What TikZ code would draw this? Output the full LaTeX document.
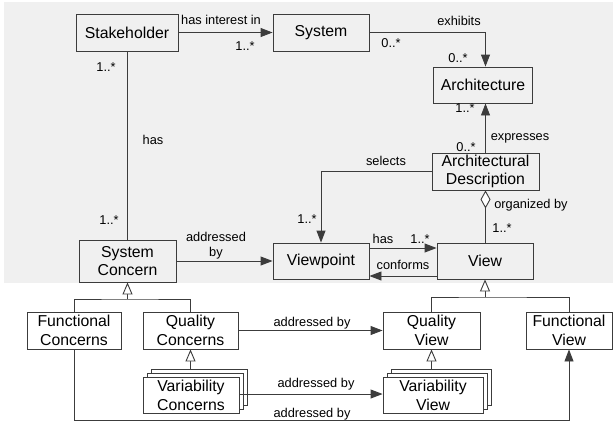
\documentclass[tikz,border=0pt]{standalone}
\usepackage{fontspec}
\setmainfont{Liberation Sans}
\usetikzlibrary{arrows.meta,calc}
\definecolor{bg}{HTML}{F0F0F0}
\definecolor{ln}{HTML}{3C3C3C}

\begin{document}
\begin{tikzpicture}[x=1pt,y=-1pt,
  cls/.style={draw=ln, line width=0.9pt, align=center, inner sep=0pt,
    font=\fontsize{15.8}{18.8}\selectfont, minimum height=37pt},
  lbl/.style={font=\fontsize{12.8}{15}\selectfont, inner sep=0pt},
  assoc/.style={draw=ln, line width=0.9pt, -{Triangle[length=12pt,width=9pt]}},
  plain/.style={draw=ln, line width=0.9pt},
  gen/.style={draw=ln, line width=0.9pt, -{Triangle[open,length=12pt,width=10pt,fill=white]}},
  agg/.style={draw=ln, line width=0.9pt, {Diamond[open,length=18pt,width=10pt,fill=white]}-}]

\useasboundingbox (0,0) rectangle (613,424);
\fill[bg] (4,2) rectangle (613,283);

% classes of the conceptual model
\node[cls, minimum width=102pt] (sh) at (127,32.5) {Stakeholder};
\node[cls, minimum width=96pt] (sys) at (321,32.5) {System};
\node[cls, minimum width=99pt, minimum height=36pt] (arch) at (483,85) {Architecture};
\node[cls, minimum width=107pt] (ad) at (485.5,171.5) {Architectural\\Description};
\node[cls, minimum width=96pt, minimum height=36pt] (view) at (485,261) {View};
\node[cls, minimum width=96pt, minimum height=36pt] (vp) at (321,261) {Viewpoint};
\node[cls, minimum width=97pt, minimum height=42pt] (sc) at (127.5,261) {System\\Concern};

% specialisations
\node[cls, minimum width=94pt, fill=white] (fc) at (74,330.5) {Functional\\Concerns};
\node[cls, minimum width=95pt, fill=white] (qc) at (190.5,330.5) {Quality\\Concerns};
\node[cls, minimum width=96pt, minimum height=36pt, fill=white] (vc3) at (199,387) {};
\node[cls, minimum width=96pt, minimum height=36pt, fill=white] (vc2) at (195,391) {};
\node[cls, minimum width=96pt, minimum height=36pt, fill=white] (vc) at (191,395) {Variability\\Concerns};
\node[cls, minimum width=97pt, fill=white] (qv) at (431.5,330.5) {Quality\\View};
\node[cls, minimum width=86pt, fill=white] (fv) at (569,330.5) {Functional\\View};
\node[cls, minimum width=100pt, minimum height=36pt, fill=white] (vv3) at (441,387) {};
\node[cls, minimum width=100pt, minimum height=36pt, fill=white] (vv2) at (437,391) {};
\node[cls, minimum width=100pt, minimum height=36pt, fill=white] (vv) at (433,395) {Variability\\View};

% associations
\draw[assoc] (sh.east) -- (sys.west);
\node[lbl] (l1) at (221,20) {has interest in};
\node[lbl] (m1) at (245,46) {1..*};

\draw[assoc] (sys.east) -| (arch.north -| ad.north);
\node[lbl] (l2) at (459,21) {exhibits};
\node[lbl] (m2) at (391,43) {0..*};
\node[lbl] (m3) at (458,58) {0..*};

\draw[assoc] (ad.north) -- (arch.south -| ad.north);
\node[lbl] (l3) at (520,138) {expresses};
\node[lbl] (m4) at (465,108) {1..*};
\node[lbl] (m5) at (466,147) {0..*};

\draw[plain] (sh.south -| sc.north) -- (sc.north);
\node[lbl] (l4) at (153,140) {has};
\node[lbl] (m6) at (106,67) {1..*};
\node[lbl] (m7) at (109,220) {1..*};

\draw[assoc] (ad.west) -| (vp.north);
\node[lbl] (l5) at (386,161) {selects};
\node[lbl] (m8) at (307,219) {1..*};

\draw[agg] (ad.south) -- (view.north -| ad.south);
\node[lbl] (l6) at (531,205) {organized by};
\node[lbl] (m9) at (502,228) {1..*};

\draw[assoc] ($(vp.east)+(0,-13)$) -- ($(view.west)+(0,-13)$);
\node[lbl] (l7) at (383,239) {has};
\node[lbl] (m10) at (420,239) {1..*};

\draw[assoc] ($(view.west)+(0,15)$) -- ($(vp.east)+(0,15)$);
\node[lbl] (l8) at (403,265) {conforms};

\draw[assoc] (sc.east) -- (vp.west);
\node[lbl, align=center, font=\fontsize{12.8}{15}\selectfont] (l9) at (216,245.5) {addressed\\by};

\draw[assoc] (qc.east) -- (qv.west);
\node[lbl] (l10) at (312,323) {addressed by};

\draw[assoc] (vc.east |- 0,394) -- (vv.west |- 0,394);
\node[lbl] (l11) at (316,384) {addressed by};

\coordinate (bot) at (0,420);
\draw[assoc] (fc.south) -- (fc.south |- bot) -| (fv.south);
\node[lbl] (l12) at (312,414) {addressed by};

% generalisations
\coordinate (jc) at (127.5,299);
\draw[plain] (fc.north) |- (jc) -| (qc.north);
\draw[gen] (jc) -- (sc.south);

\coordinate (jv) at (485,297);
\draw[plain] (qv.north) |- (jv) -| (fv.north);
\draw[gen] (jv) -- (view.south);

\draw[gen] (qc.south |- vc3.north) -- (qc.south);
\draw[gen] (qv.south |- vv3.north) -- (qv.south);
\end{tikzpicture}
\end{document}
